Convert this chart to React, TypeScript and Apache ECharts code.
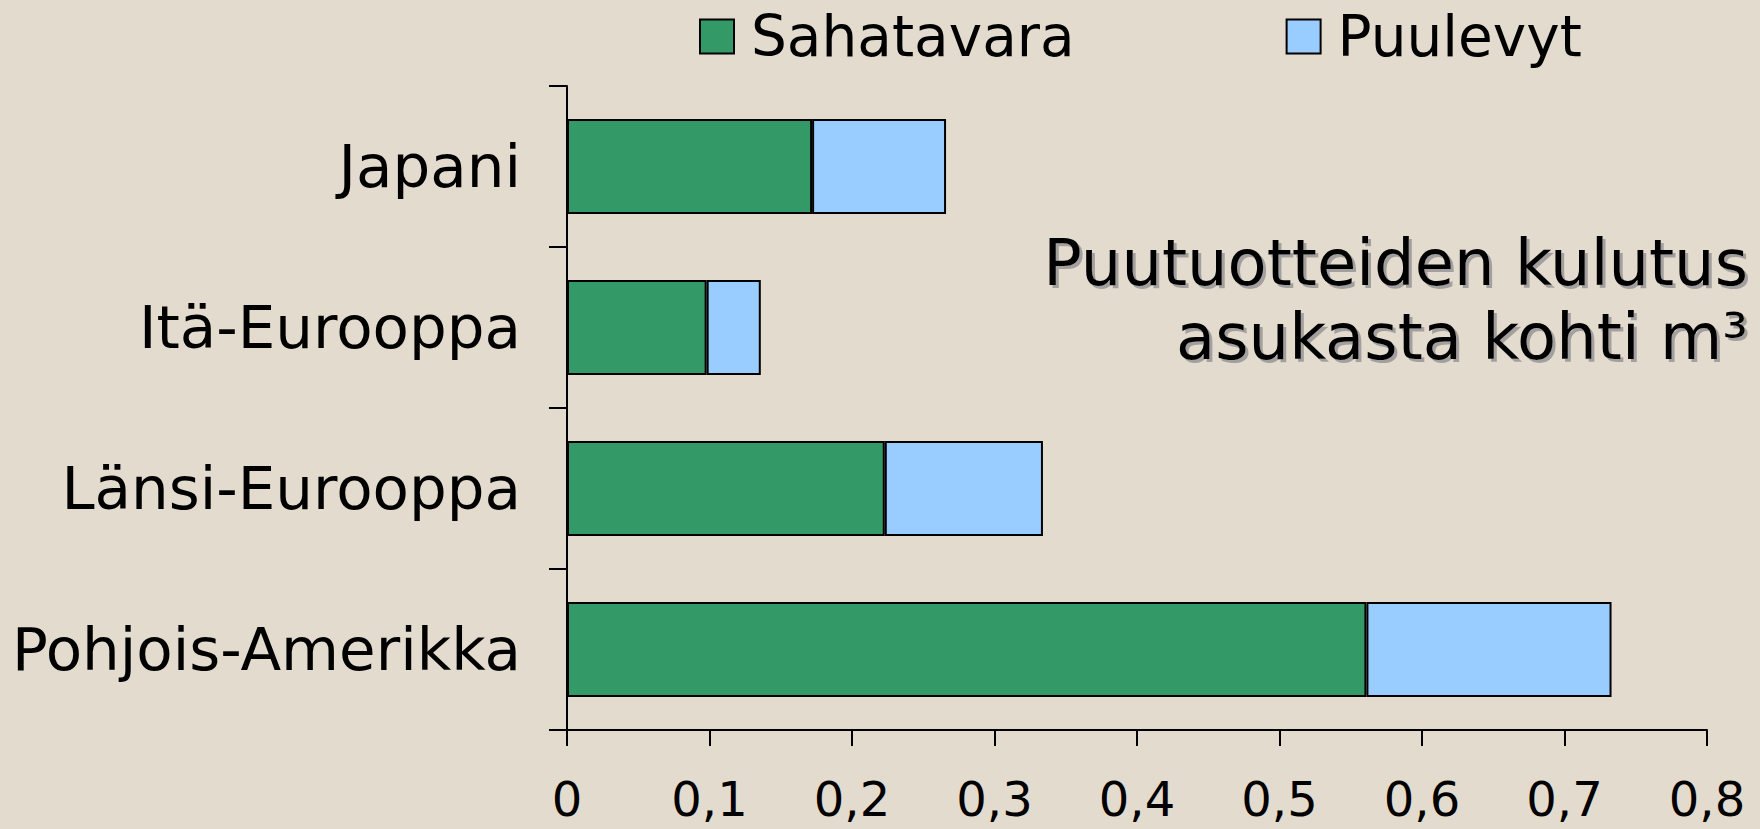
import React, { useEffect, useRef } from "react";
import * as echarts from "echarts";

const categories = ["Japani", "Itä-Eurooppa", "Länsi-Eurooppa", "Pohjois-Amerikka"];
const sahatavara = [0.172, 0.098, 0.223, 0.561];
const puulevyt = [0.094, 0.038, 0.111, 0.172];
const xTicks = [0, 0.1, 0.2, 0.3, 0.4, 0.5, 0.6, 0.7, 0.8];
const titleLines = ["Puutuotteiden kulutus", "asukasta kohti m³"];

const FONT = "'DejaVu Sans', Verdana, sans-serif";

export default function App() {
  const ref = useRef<HTMLDivElement>(null);
  useEffect(() => {
    if (!ref.current) return;
    const chart = echarts.init(ref.current, undefined, { renderer: "svg" });
    chart.setOption({
      animation: false,
      backgroundColor: "#e3dbcd",
      textStyle: { fontFamily: FONT },
      graphic: [
        {
          type: "text",
          x: 1748,
          y: 226,
          style: {
            text: titleLines.join("\n"),
            align: "right",
            verticalAlign: "top",
            fontFamily: FONT,
            fontSize: 64,
            lineHeight: 74,
            fill: "#000",
            textShadowColor: "rgba(110,110,120,0.55)",
            textShadowOffsetX: 3,
            textShadowOffsetY: 3,
            textShadowBlur: 1,
          },
        },
      ],
      legend: {
        left: 694,
        top: 3,
        itemWidth: 34,
        itemHeight: 34,
        itemGap: 211,
        icon: "rect",
        textStyle: { fontFamily: FONT, fontSize: 56.5, color: "#000", padding: [0, 0, 0, 12] },
        data: ["Sahatavara", "Puulevyt"],
      },
      grid: { left: 567, right: 53, top: 86, bottom: 99, containLabel: false },
      xAxis: {
        type: "value",
        min: 0,
        max: 0.8,
        interval: 0.1,
        splitLine: { show: false },
        axisLine: { show: true, lineStyle: { color: "#000", width: 2 } },
        axisTick: { show: true, length: 16, lineStyle: { color: "#000", width: 2 } },
        axisLabel: {
          margin: 46,
          fontFamily: FONT,
          fontSize: 48,
          lineHeight: 46,
          color: "#000",
          formatter: (v: number) => {
            const t = xTicks.find((x) => Math.abs(x - v) < 1e-9);
            return t === undefined ? "" : String(t).replace(".", ",");
          },
        },
      },
      yAxis: {
        type: "category",
        data: categories,
        inverse: true,
        axisLine: { show: true, lineStyle: { color: "#000", width: 2 } },
        axisTick: { show: true, length: 18, lineStyle: { color: "#000", width: 2 } },
        axisLabel: { margin: 46, fontFamily: FONT, fontSize: 59.5, color: "#000" },
      },
      series: [
        {
          name: "Sahatavara",
          type: "bar",
          stack: "total",
          data: sahatavara,
          barCategoryGap: "41%",
          itemStyle: { color: "#339966", borderColor: "#000", borderWidth: 2 },
        },
        {
          name: "Puulevyt",
          type: "bar",
          stack: "total",
          data: puulevyt,
          barCategoryGap: "41%",
          itemStyle: { color: "#99ccff", borderColor: "#000", borderWidth: 2 },
        },
      ],
    });
    return () => chart.dispose();
  }, []);
  return (
    <div
      ref={ref}
      style={{ position: "fixed", left: 0, top: 0, width: 1760, height: 829 }}
    />
  );
}
